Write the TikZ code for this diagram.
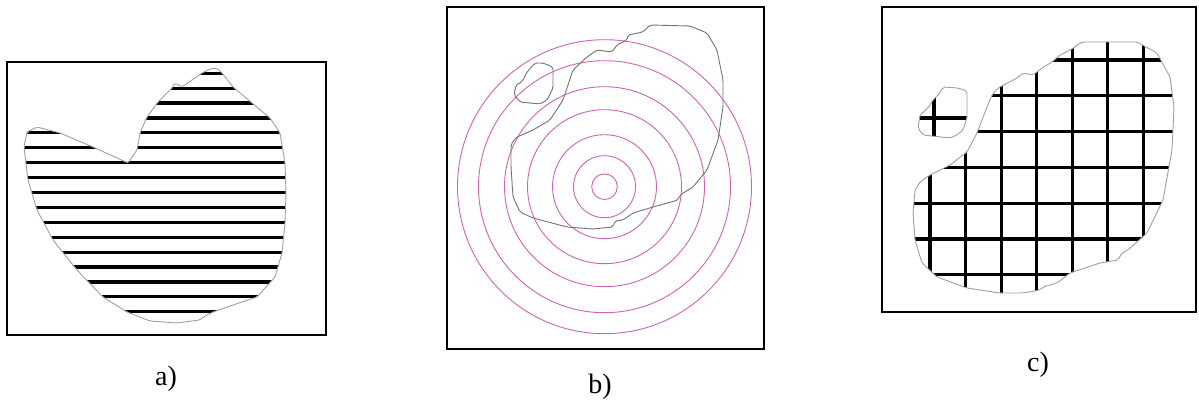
\documentclass[tikz,border=0pt]{standalone}
\usepackage{fontspec}
\setmainfont{Liberation Serif}
\usepackage{tikz}
\definecolor{ringpink}{RGB}{206,100,180}

\newcommand{\shapeA}{(202,73) -- (210,69) -- (217,68) -- (222,73) -- (233,87) -- (252,103) -- (270,118) -- (280,133) -- (285,163) -- (286,193) -- (285,223) -- (282,253) -- (275,277) -- (257,297) -- (233,305) -- (213,312) -- (205,316) -- (200,320) -- (177,323) -- (150,321) -- (127,312) -- (103,297) -- (77,270) -- (53,240) -- (37,210) -- (28,180) -- (24,147) -- (27,132) -- (37,127) -- (60,133) -- (93,147) -- (128,163) -- (137,150) -- (140,133) -- (147,117) -- (158,102) -- (172,88) -- (175,83) -- (182,87) -- (192,80) -- cycle}
\newcommand{\shapeB}{(650,25) -- (690,26) -- (707,33) -- (717,50) -- (723,80) -- (723,107) -- (718,140) -- (707,170) -- (693,187) -- (680,195) -- (678,200) -- (653,207) -- (633,213) -- (623,220) -- (615,221) -- (613,227) -- (593,229) -- (567,227) -- (533,218) -- (520,212) -- (513,197) -- (511,167) -- (511,145) -- (514,140) -- (517,137) -- (533,130) -- (550,120) -- (563,100) -- (573,70) -- (587,57) -- (597,50) -- (612,52) -- (617,45) -- (627,40) -- (628,35) -- (643,32) -- (648,27) -- cycle}
\newcommand{\isleB}{(535,63) -- (543,63) -- (553,67) -- (553,88) -- (547,100) -- (540,104) -- (520,102) -- (514,95) -- (516,85) -- (522,82) -- (527,72) -- cycle}
\newcommand{\shapeC}{(1083,42) -- (1137,42) -- (1157,53) -- (1170,77) -- (1174,107) -- (1172,150) -- (1163,200) -- (1147,233) -- (1128,250) -- (1122,253) -- (1118,260) -- (1100,263) -- (1070,273) -- (1057,283) -- (1043,287) -- (1040,290) -- (1023,293) -- (1000,293) -- (967,288) -- (937,277) -- (922,263) -- (915,240) -- (913,213) -- (915,190) -- (920,182) -- (930,175) -- (950,165) -- (967,152) -- (977,133) -- (987,107) -- (992,95) -- (998,88) -- (1017,78) -- (1023,73) -- (1033,75) -- (1042,68) -- (1052,62) -- (1060,55) -- (1070,50) -- (1075,47) -- (1080,43) -- cycle}
\newcommand{\isleC}{(943,87) -- (958,88) -- (967,91) -- (967,118) -- (963,130) -- (957,135) -- (950,138) -- (923,135) -- (918,128) -- (920,115) -- (928,108) -- (933,100) -- (940,93) -- cycle}

\begin{document}
\begin{tikzpicture}[
    x=1pt, y=-1pt,
    frame/.style={draw, line width=2pt},
    outline/.style={draw=gray!75, line width=0.9pt, line join=round, rounded corners=2pt},
    hatch/.style={line width=3.2pt, black},
    ring/.style={draw=ringpink, line width=0.9pt},
    caption/.style={anchor=base, font=\fontsize{28}{30}\selectfont, inner sep=0pt}
]
\useasboundingbox (0,0) rectangle (1199,401);

% a)
\draw[frame] (7,62) rectangle (326,335);
\begin{scope}
  \clip \shapeA;
  \foreach \k in {0,...,16}
    \draw[hatch] (0,{73.3+14.9*\k}) -- (330,{73.3+14.9*\k});
\end{scope}
\draw[outline] \shapeA;

% b)
\draw[frame] (447,7) rectangle (764,349);
\foreach \r in {12.8,31,52,77,100,126,147}
  \draw[ring] (604.5,186.7) circle[radius=\r];
\draw[outline, draw=gray!90!black] \shapeB;
\draw[outline, draw=gray!90!black] \isleB;

% c)
\draw[frame] (882,7) rectangle (1196,312);
\begin{scope}
  \clip \shapeC;
  \foreach \k in {0,...,6} {
    \draw[hatch] ({930+35.55*\k},0) -- ({930+35.55*\k},320);
    \draw[hatch] (900,{60+35.8*\k}) -- (1190,{60+35.8*\k});
  }
\end{scope}
\begin{scope}
  \clip \isleC;
  \draw[hatch] (934,80) -- (934,145);
  \draw[hatch] (910,118) -- (975,118);
\end{scope}
\draw[outline] \shapeC;
\draw[outline] \isleC;

\node[caption] (capa) at (166,385) {a)};
\node[caption] (capb) at (600,393) {b)};
\node[caption] (capc) at (1038,371) {c)};
\end{tikzpicture}
\end{document}
